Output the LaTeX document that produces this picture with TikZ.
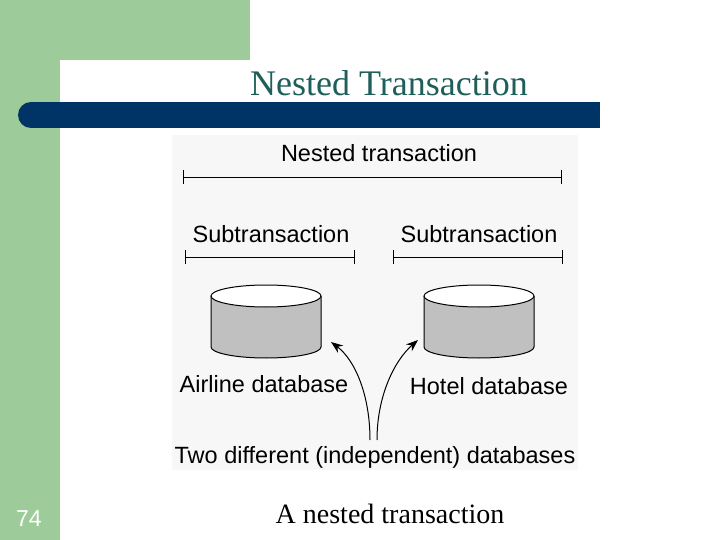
\documentclass[tikz,border=0pt]{standalone}
\usepackage{fontspec}
\usetikzlibrary{arrows.meta}
\setmainfont{Liberation Serif}
\newfontfamily\arial{Liberation Sans}
\definecolor{sgreen}{HTML}{9DCB9A}
\definecolor{sblue}{HTML}{003366}
\definecolor{ttl}{HTML}{1F5F5A}
\definecolor{dbgray}{HTML}{C0C0C0}
\begin{document}
\begin{tikzpicture}[x=1pt,y=-1pt,
  lbl/.style={font=\arial\fontsize{23.5}{25}\selectfont, inner sep=0pt},
  cyl/.style={fill=dbgray, draw=black, line width=1pt}]
\useasboundingbox (0,0) rectangle (720,540);
\fill[white] (0,0) rectangle (720,540);
\fill[sgreen] (0,0) rectangle (250,60);
\fill[sgreen] (0,0) rectangle (60,540);
\fill[white] (90,60) rectangle (250,540);
\fill[white] (60,90) rectangle (250,540);
\fill[white] (90,90) circle[radius=30];
\fill[sblue] (31,102) rectangle (600,128);
\fill[sblue] (31,115) circle[radius=13];
\node[text=ttl, font=\fontsize{36}{38}\selectfont] (title) at (389,83) {Nested Transaction};
\node[text=white, font=\arial\fontsize{23}{24}\selectfont] (num) at (29,519) {74};
\node[font=\fontsize{28}{30}\selectfont] (cap) at (390,514) {A nested transaction};
\fill[black!3] (172,135) rectangle (578,470);
\node[lbl] (nt) at (379,153) {Nested transaction};
\coordinate (n1) at (183,177); \coordinate (n2) at (561,177);
\draw[line width=0.8pt] (n1) -- (n2); \draw[line width=0.8pt] (183,170) -- (183,184) (561,170) -- (561,184);
\node[lbl] (s1) at (271,234) {Subtransaction};
\node[lbl] (s2) at (479,234) {Subtransaction};
\draw[line width=0.8pt] (185,257) -- (354,257) (185,250) -- (185,264) (354,250) -- (354,264);
\draw[line width=0.8pt] (393,257) -- (562,257) (393,250) -- (393,264) (562,250) -- (562,264);
\foreach \cx/\nm in {266/da,479/db}{
  \draw[cyl] (\cx-55,296) -- (\cx-55,347) arc[start angle=180,end angle=0,x radius=55,y radius=11] -- (\cx+55,296);
  \draw[fill=white, line width=1pt] (\cx,296) ellipse[x radius=55, y radius=11];
  \coordinate (\nm) at (\cx,320);
}
\node[lbl] (al) at (264,384) {Airline database};
\node[lbl] (ho) at (489,386) {Hotel database};
\node[lbl] (two) at (375,457) {Two different (independent) databases};
\coordinate (a0) at (370,440); \coordinate (a1) at (331,342);
\coordinate (b0) at (377,440); \coordinate (b1) at (418,340);
\draw[-{Stealth[length=12pt,width=9pt]}, line width=1pt] (a0) .. controls (370,395) and (355,360) .. (a1);
\draw[-{Stealth[length=12pt,width=9pt]}, line width=1pt] (b0) .. controls (377,395) and (395,360) .. (b1);
\end{tikzpicture}
\end{document}
